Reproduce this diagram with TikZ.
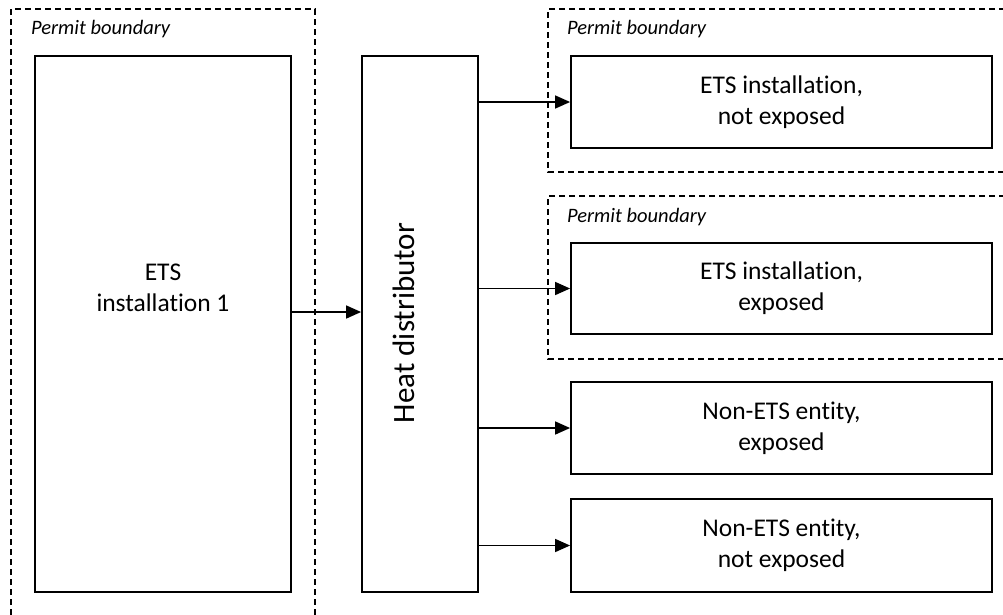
\documentclass[tikz,border=0pt]{standalone}
\usepackage{fontspec}
\setmainfont[Ligatures={NoCommon}]{Carlito}
\usetikzlibrary{arrows.meta}
\begin{document}
\begin{tikzpicture}[x=1pt,y=-1pt,
  box/.style={draw=black,line width=1.8pt,rectangle,inner sep=0pt,align=center,
    font=\fontsize{25.5}{31}\selectfont},
  bound/.style={draw=black,line width=1.4pt,dash pattern=on 6pt off 4pt},
  blabel/.style={anchor=west,inner sep=0pt,font=\fontsize{20.5}{24}\selectfont\itshape},
  flow/.style={draw=black,line width=1.5pt,-{Triangle[length=15pt,width=13pt]}}]
\useasboundingbox (0,0) rectangle (1003,614);
% permit boundaries
\draw[bound] (11,625) -- (11,9) -- (315,9) -- (315,625);
\draw[bound] (1015,9) -- (548,9) -- (548,172) -- (1015,172);
\draw[bound] (1015,196) -- (548,196) -- (548,359) -- (1015,359);
\node[blabel] (pb1) at (31,29) {Permit boundary};
\node[blabel] (pb2) at (567,29) {Permit boundary};
\node[blabel] (pb3) at (567,217) {Permit boundary};
% boxes
\node[box,minimum width=256pt,minimum height=536pt] (ets1) at (163,324) {};
\node[align=center,font=\fontsize{25.5}{31}\selectfont] (ets1t) at ([yshift=36pt]ets1.center) {ETS\\installation 1};
\node[box,minimum width=116pt,minimum height=536pt] (hd) at (420,324) {};
\node[rotate=90,font=\fontsize{31}{36}\selectfont,inner sep=0pt] (hdt) at (404,323) {Heat distributor};
\node[box,minimum width=421pt,minimum height=92pt] (r1) at (781.5,102) {ETS installation,\\not exposed};
\node[box,minimum width=421pt,minimum height=91pt] (r2) at (781.5,288.5) {ETS installation,\\exposed};
\node[box,minimum width=421pt,minimum height=92pt] (r3) at (781.5,428) {Non-ETS entity,\\exposed};
\node[box,minimum width=421pt,minimum height=93pt] (r4) at (781.5,545.5) {Non-ETS entity,\\not exposed};
% connectors
\draw[flow] ([yshift=12pt]ets1.east) -- ([yshift=12pt]hd.west);
\draw[flow] (hd.east |- r1.west) -- (r1.west);
\draw[flow] (hd.east |- r2.west) -- (r2.west);
\draw[flow] (hd.east |- r3.west) -- (r3.west);
\draw[flow] (hd.east |- r4.west) -- (r4.west);
\end{tikzpicture}
\end{document}
